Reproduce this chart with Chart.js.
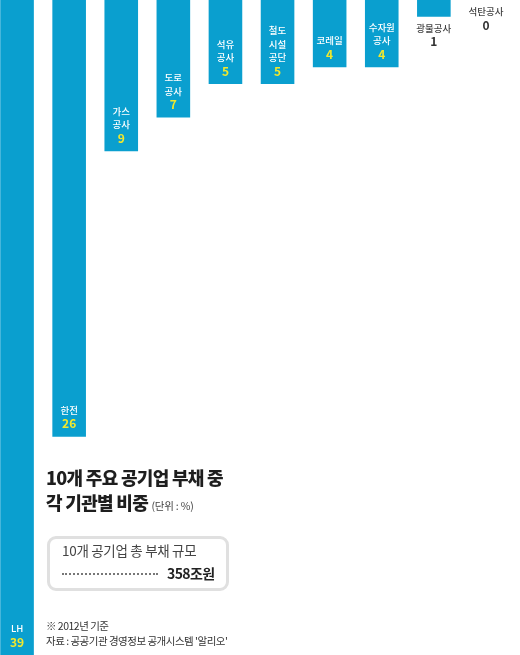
<!DOCTYPE html>
<html>
<head>
<meta charset="utf-8">
<script src="https://cdn.jsdelivr.net/npm/chart.js@4"></script>
<style>
  html, body { margin: 0; padding: 0; background: #fff; }
  body { width: 520px; height: 655px; position: relative; overflow: hidden;
         font-family: "Noto Sans CJK KR", "Noto Sans", sans-serif; color: #222; }
  #wrap { position: absolute; left: -9px; top: 0; width: 521px; height: 655px; }
  .abs { position: absolute; white-space: nowrap; }
  .title { left: 46px; font-size: 18px; font-weight: 900; letter-spacing: -0.7px; color: #1e1e1e; line-height: 1; }
  .unit { font-size: 10.5px; font-weight: 400; color: #444; letter-spacing: -0.2px; }
  .box { left: 47px; top: 536px; width: 176px; height: 49px; border: 3px solid #e0e0e0; border-radius: 9px; }
  .note { left: 46px; font-size: 10.5px; color: #333; line-height: 1; letter-spacing: -0.5px; }
</style>
</head>
<body>
<div id="wrap"><canvas id="debtChart" width="521" height="655"></canvas></div>

<div class="abs title" style="top:468px">10개 주요 공기업 부채 중</div>
<div class="abs title" style="top:493px">각 기관별 비중 <span class="unit">(단위 : %)</span></div>

<div class="abs box"></div>
<div class="abs" style="left:62px; top:544px; font-size:13.5px; color:#444; letter-spacing:-0.3px; line-height:1">10개 공기업 총 부채 규모</div>
<div class="abs" style="left:62px; top:573px; width:96px; border-top:2px dotted #777"></div>
<div class="abs" style="left:167px; top:566px; font-size:14px; font-weight:700; color:#222; letter-spacing:-0.6px; line-height:1">358조원</div>

<div class="abs note" style="top:621px">※ 2012년 기준</div>
<div class="abs note" style="top:636px">자료 : 공공기관 경영정보 공개시스템 '알리오'</div>

<script>
const agencies = ['LH', '한전', '가스공사', '도로공사', '석유공사', '철도시설공단', '코레일', '수자원공사', '광물공사', '석탄공사'];
const labelLines = [['LH'], ['한전'], ['가스', '공사'], ['도로', '공사'], ['석유', '공사'], ['철도', '시설', '공단'], ['코레일'], ['수자원', '공사'], ['광물공사'], ['석탄공사']];
const shares = [39, 26, 9, 7, 5, 5, 4, 4, 1, 0];

// names + values at the end of each hanging bar
const barLabels = {
  id: 'barLabels',
  afterDatasetsDraw(chart) {
    const ctx = chart.ctx;
    const meta = chart.getDatasetMeta(0);
    ctx.save();
    ctx.textAlign = 'center';
    ctx.textBaseline = 'middle';
    meta.data.forEach(function(bar, i) {
      const lines = labelLines[i];
      const val = String(shares[i]);
      const inside = shares[i] >= 2;
      let valY, nameColor, valColor;
      if (inside) {
        valY = bar.y - 13;
        nameColor = '#ffffff';
        valColor = '#f3e82b';
      } else {
        valY = bar.y + 25;
        nameColor = '#444444';
        valColor = '#333333';
      }
      ctx.font = '700 12px "Noto Sans CJK KR", sans-serif';
      ctx.fillStyle = valColor;
      ctx.fillText(val, bar.x, valY);
      ctx.font = '500 9.5px "Noto Sans CJK KR", sans-serif';
      ctx.fillStyle = nameColor;
      for (let k = 0; k < lines.length; k++) {
        const y = valY - 13.5 * (lines.length - k);
        ctx.fillText(lines[k], bar.x, y);
      }
    });
    ctx.restore();
  }
};

new Chart(document.getElementById('debtChart'), {
  type: 'bar',
  data: {
    labels: agencies,
    datasets: [{
      data: shares,
      backgroundColor: '#0a9fcf',
      borderWidth: 0,
      barPercentage: 0.645,
      categoryPercentage: 1
    }]
  },
  options: {
    responsive: false,
    animation: false,
    layout: { padding: 0 },
    plugins: {
      legend: { display: false },
      tooltip: { enabled: false }
    },
    scales: {
      x: { display: false },
      y: { display: false, reverse: true, min: 0, max: 39 }
    }
  },
  plugins: [barLabels]
});
</script>
</body>
</html>
